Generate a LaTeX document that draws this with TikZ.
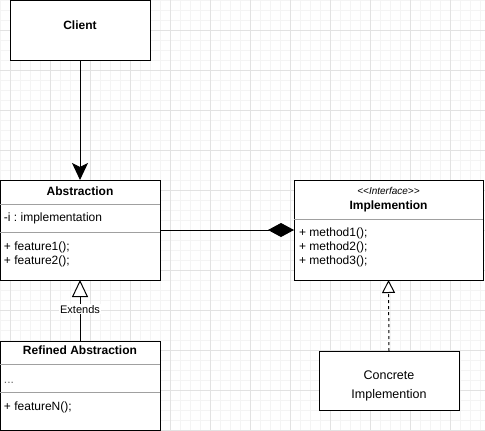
\documentclass[tikz,border=0pt]{standalone}
\usepackage{fontspec}
\setmainfont{Liberation Sans}
\usetikzlibrary{arrows.meta}
\definecolor{gridmajor}{HTML}{E2E2E2}
\definecolor{gridminor}{HTML}{F4F4F4}
\definecolor{sepline}{HTML}{A0A0A0}
\frenchspacing
\begin{document}
\begin{tikzpicture}[x=1pt,y=-1pt,
  umlbox/.style={draw=black, line width=1pt, fill=white, inner sep=0pt, outer sep=0pt, anchor=north west},
  sep/.style={draw=sepline, line width=1pt},
  txt/.style={inner sep=0pt, outer sep=0pt, anchor=base west, font=\fontsize{12}{14}\selectfont},
  ttl/.style={inner sep=0pt, outer sep=0pt, anchor=base, font=\fontsize{12}{14}\selectfont\bfseries},
  conn/.style={draw=black, line width=1pt},
  gridminorline/.style={draw=gridminor, line width=0.8pt},
  gridmajorline/.style={draw=gridmajor, line width=0.8pt}
]
\useasboundingbox (0,0) rectangle (485,431);
\fill[white] (0,0) rectangle (485,431);
% grid
\foreach \x in {0,10,...,480} \draw[gridminorline] (\x,0) -- (\x,431);
\foreach \y in {0,10,...,430} \draw[gridminorline] (0,\y) -- (485,\y);
\foreach \x in {10,50,...,490} \draw[gridmajorline] (\x,0) -- (\x,431);
\foreach \y in {30,70,...,430} \draw[gridmajorline] (0,\y) -- (485,\y);

% Client
\node[umlbox, minimum width=140pt, minimum height=60pt] (client) at (10,0) {};
\node[ttl] (clientlbl) at (80,29) {Client};

% Abstraction
\node[umlbox, minimum width=160pt, minimum height=100pt] (abs) at (0,180) {};
\draw[sep] (0,204) -- (160,204);
\draw[sep] (0,232) -- (160,232);
\node[ttl] (abstitle) at (80,195) {Abstraction};
\node[txt] (absattr) at (4,221.5) {-i : implementation};
\node[txt] (absf1) at (4,250) {+ feature1();};
\node[txt] (absf2) at (4,264) {+ feature2();};

% Implementation
\node[umlbox, minimum width=189pt, minimum height=100pt] (impl) at (294,180) {};
\draw[sep] (294,219) -- (483,219);
\node[inner sep=0pt, anchor=base, font=\fontsize{10}{12}\selectfont\itshape] (implster) at (388.5,194) {<{}<Interface>{}>};
\node[ttl] (impltitle) at (388.5,209) {Implemention};
\node[txt] (implm1) at (299,236) {+ method1();};
\node[txt] (implm2) at (299,250) {+ method2();};
\node[txt] (implm3) at (299,264) {+ method3();};

% Refined Abstraction
\node[umlbox, minimum width=160pt, minimum height=89pt] (ref) at (0,341) {};
\draw[sep] (0,364) -- (160,364);
\draw[sep] (0,392) -- (160,392);
\node[ttl] (reftitle) at (80,354) {Refined Abstraction};
\node[txt, text=black!60] (refdots) at (4,383) {...};
\node[txt] (reff) at (4,410) {+ featureN();};

% Concrete Implementation
\node[umlbox, minimum width=140pt, minimum height=59pt] (conc) at (319,351) {};
\node[ttl, font=\fontsize{12.5}{14}\selectfont] (conc1) at (389,379) {Concrete};
\node[ttl, font=\fontsize{12.5}{14}\selectfont] (conc2) at (389,398) {Implemention};

% connectors
\draw[conn, -{Stealth[length=17pt, width=16pt, inset=4pt]}] (client.south) -- (abs.north);
\draw[conn, -{Diamond[length=26pt, width=14pt]}] (abs.east) -- (impl.west);
\draw[conn, -{Triangle[open, length=17pt, width=16pt, fill=white]}] (ref.north) -- node[fill=white, inner sep=1pt, font=\fontsize{11}{13}\selectfont, pos=0.52] (extlbl) {Extends} (abs.south);
\draw[conn, dashed, dash pattern=on 3pt off 3pt, -{Triangle[open, length=13pt, width=13pt, fill=white]}] (conc.north) -- (impl.south);
\end{tikzpicture}
\end{document}
